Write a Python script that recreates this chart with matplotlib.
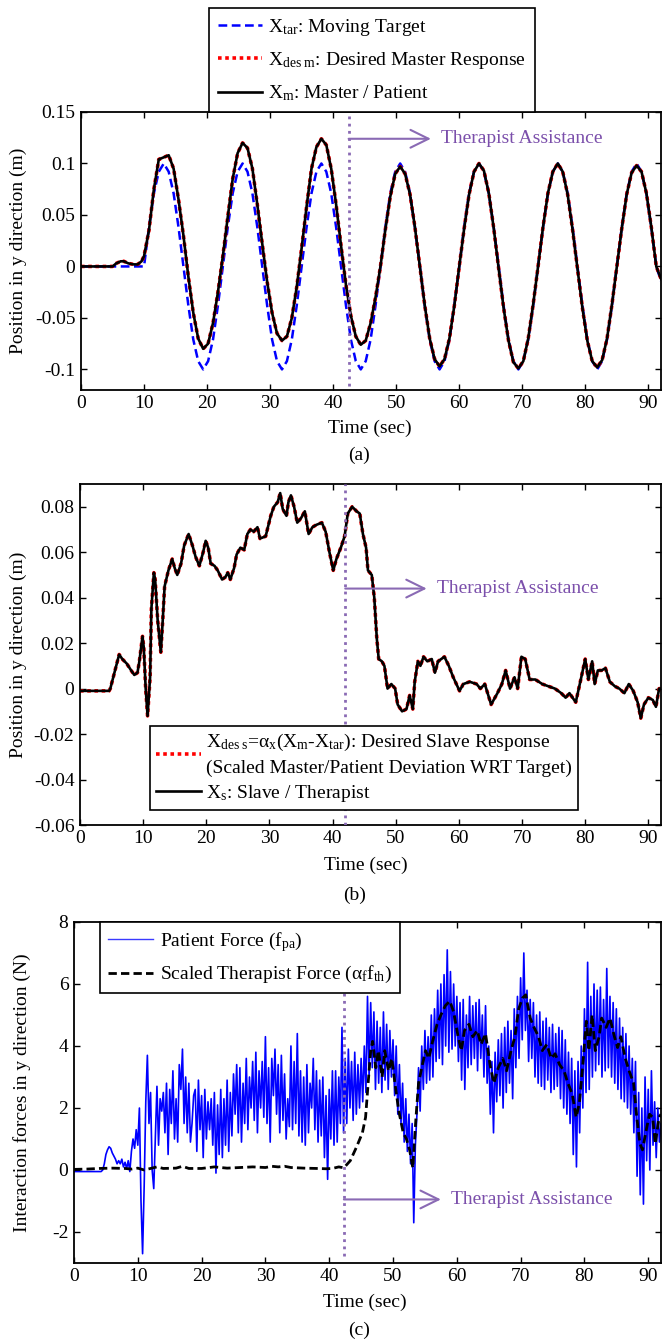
import matplotlib
matplotlib.use('Agg')
import matplotlib.pyplot as plt
import numpy as np

plt.rcParams['font.family'] = ['Liberation Serif', 'DejaVu Serif']
plt.rcParams['mathtext.fontset'] = 'custom'
plt.rcParams['mathtext.rm'] = 'Liberation Serif'
plt.rcParams['mathtext.it'] = 'Liberation Serif:italic'
plt.rcParams['font.size'] = 14

PURPLE_TXT = '#7b4fab'
PURPLE_LN = '#8a6ab4'

# ---------------- (a) position of master vs target ----------------
t_tar = [0, 10.00, 10.78, 11.56, 12.34, 13.13, 13.91, 14.69, 15.47, 16.25, 17.03, 17.81, 18.59, 19.38, 20.16, 20.94, 21.72,
         22.50, 23.28, 24.06, 24.84, 25.63, 26.41, 27.19, 27.97, 28.75, 29.53, 30.31, 31.09, 31.88, 32.66, 33.44, 34.22,
         35.00, 35.78, 36.56, 37.34, 38.13, 38.91, 39.69, 40.47, 41.25, 42.03, 42.81, 43.59, 44.38, 45.16, 45.94, 46.72,
         47.50, 48.28, 49.06, 49.84, 50.63, 51.41, 52.19, 52.97, 53.75, 54.53, 55.31, 56.09, 56.88, 57.66, 58.44, 59.22,
         60.00, 60.78, 61.56, 62.34, 63.13, 63.91, 64.69, 65.47, 66.25, 67.03, 67.81, 68.59, 69.38, 70.16, 70.94, 71.72,
         72.50, 73.28, 74.06, 74.84, 75.63, 76.41, 77.19, 77.97, 78.75, 79.53, 80.31, 81.09, 81.88, 82.66, 83.44, 84.22,
         85.00, 85.78, 86.56, 87.34, 88.13, 88.91, 89.69, 90.47, 91.25, 92.00]
x_tar = [0, 0.000, 0.038, 0.071, 0.092, 0.100, 0.092, 0.071, 0.038, 0.000, -0.038, -0.071, -0.092, -0.100, -0.092, -0.071, -0.038,
         0.000, 0.038, 0.071, 0.092, 0.100, 0.092, 0.071, 0.038, 0.000, -0.038, -0.071, -0.092, -0.100, -0.092, -0.071, -0.038,
         0.000, 0.038, 0.071, 0.092, 0.100, 0.092, 0.071, 0.038, 0.000, -0.038, -0.071, -0.092, -0.100, -0.092, -0.071, -0.038,
         0.000, 0.038, 0.071, 0.092, 0.100, 0.092, 0.071, 0.038, 0.000, -0.038, -0.071, -0.092, -0.100, -0.092, -0.071, -0.038,
         0.000, 0.038, 0.071, 0.092, 0.100, 0.092, 0.071, 0.038, 0.000, -0.038, -0.071, -0.092, -0.100, -0.092, -0.071, -0.038,
         0.000, 0.038, 0.071, 0.092, 0.100, 0.092, 0.071, 0.038, 0.000, -0.038, -0.071, -0.092, -0.100, -0.092, -0.071, -0.038,
         0.000, 0.038, 0.071, 0.092, 0.100, 0.092, 0.071, 0.038, 0.000, -0.014]

t_m = [0, 5.0, 5.6, 6.3, 6.8, 7.5, 8.3, 9.0, 9.6] + t_tar[1:]
x_m = [0, 0.000, 0.003, 0.005, 0.005, 0.003, 0.002, 0.002, 0.005,
       0.010, 0.035, 0.075, 0.104, 0.106, 0.108, 0.095, 0.065, 0.030, -0.010, -0.045, -0.070, -0.080, -0.075, -0.055, -0.025,
       0.010, 0.048, 0.085, 0.110, 0.120, 0.115, 0.095, 0.060, 0.022, -0.015, -0.045, -0.065, -0.072, -0.068, -0.050, -0.020,
       0.018, 0.058, 0.095, 0.116, 0.124, 0.118, 0.095, 0.060, 0.020, -0.018, -0.048, -0.068, -0.076, -0.072, -0.055, -0.030,
       0.000, 0.036, 0.068, 0.090, 0.097, 0.090, 0.070, 0.038, 0.000, -0.038, -0.070, -0.090, -0.097, -0.090, -0.070, -0.038,
       0.000, 0.037, 0.070, 0.092, 0.100, 0.093, 0.071, 0.037, -0.002, -0.040, -0.072, -0.093, -0.099, -0.092, -0.070, -0.037,
       0.000, 0.038, 0.071, 0.092, 0.100, 0.092, 0.070, 0.036, -0.002, -0.040, -0.072, -0.092, -0.098, -0.091, -0.070, -0.037,
       0.000, 0.037, 0.070, 0.091, 0.098, 0.092, 0.071, 0.038, 0.000, -0.012]
x_des_m = x_m

# ---------------- (b) slave position ----------------
t_s = [0, 4.6, 4.8, 6.2, 6.7, 7.4, 8.1, 8.6, 9.1, 9.4, 9.9, 10.1, 10.4, 10.7, 11.1, 11.3, 11.7, 11.9, 12.3, 12.8,
       13.1, 13.4, 14.0, 14.6, 15.0, 15.4, 16.0, 16.5, 17.2, 17.8, 18.3, 18.9, 19.5, 19.9, 20.3, 20.7, 21.3, 21.8, 22.5,
       23.0, 23.4, 23.8, 24.4, 24.8, 25.4, 26.0, 26.5, 27.0, 27.5, 28.1, 28.5, 29.4, 30.2, 30.7, 31.3, 31.7, 32.1, 32.7,
       33.0, 33.4, 33.9, 34.4, 35.0, 35.6, 36.2, 36.8, 37.4, 38.3, 38.9, 39.5, 40.1, 40.6, 41.3, 41.9, 42.4, 43.1, 43.8,
       44.3, 44.8, 45.3, 45.6, 46.2, 46.6, 47.0, 47.3, 47.8, 48.2, 48.7, 49.3, 49.9, 50.3, 51.0, 51.7, 52.2, 52.7, 53.0,
       53.5, 53.9, 54.4, 55.0, 55.7, 56.2, 56.7, 57.7, 58.4, 59.1, 60.1, 60.7, 61.7, 62.8, 63.4, 64.1, 65.1, 66.1, 66.8,
       67.4, 68.1, 68.8, 69.3, 69.9, 70.5, 71.2, 72.1, 73.2, 74.2, 75.2, 76.2, 76.9, 77.5, 78.5, 79.3, 80.0, 80.5, 81.1,
       81.5, 82.0, 82.6, 83.2, 83.9, 84.7, 85.4, 86.2, 86.9, 87.6, 88.3, 88.8, 89.3, 90.0, 90.7, 91.2, 91.7, 92.0]
x_s = [-0.001, -0.001, 0.000, 0.015, 0.013, 0.011, 0.008, 0.006, 0.007, 0.012, 0.023, 0.018, 0.000, -0.012, 0.005, 0.035, 0.051, 0.048, 0.030, 0.016,
       0.030, 0.045, 0.052, 0.057, 0.053, 0.050, 0.055, 0.063, 0.068, 0.063, 0.058, 0.054, 0.060, 0.065, 0.062, 0.055, 0.054, 0.052, 0.048,
       0.049, 0.051, 0.048, 0.053, 0.059, 0.062, 0.061, 0.068, 0.070, 0.069, 0.071, 0.066, 0.067, 0.076, 0.080, 0.082, 0.086, 0.079, 0.076,
       0.082, 0.085, 0.080, 0.073, 0.075, 0.078, 0.068, 0.071, 0.072, 0.073, 0.069, 0.060, 0.052, 0.057, 0.062, 0.067, 0.077, 0.080, 0.078,
       0.077, 0.068, 0.062, 0.052, 0.050, 0.040, 0.022, 0.013, 0.012, 0.010, 0.000, 0.002, 0.000, -0.007, -0.010, -0.009, -0.003, -0.009, 0.003,
       0.012, 0.010, 0.014, 0.012, 0.013, 0.007, 0.012, 0.014, 0.010, 0.005, -0.001, 0.002, 0.003, 0.002, 0.000, 0.002, -0.007, -0.002, 0.002,
       0.008, 0.000, 0.005, 0.000, 0.014, 0.013, 0.004, 0.004, 0.002, 0.001, 0.000, -0.002, -0.004, -0.002, -0.006, 0.004, 0.013, 0.004, 0.012,
       0.002, 0.008, 0.008, 0.009, 0.003, 0.001, 0.000, -0.002, 0.002, -0.001, -0.006, -0.013, -0.007, -0.004, -0.005, -0.008, 0.000, 0.000]
x_des_s = x_s

# ---------------- (c) interaction forces ----------------
dt_force = 0.25
f_pa = [-0.05, -0.05, -0.05, -0.05, -0.05, -0.05, -0.05, -0.05, -0.05, -0.05, -0.05, -0.05, -0.05, -0.05, -0.05, -0.05,
        -0.05, -0.05, 0.0, 0.2, 0.5, 0.65, 0.75, 0.7, 0.55, 0.45, 0.35, 0.2, 0.3, 0.2, 0.35, 0.1,
        0.25, 0.05, 0.3, -0.05, 0.6, 1.0, 0.7, 1.3, 0.8, 2.0, -1.0, -2.7, -0.5, 2.2, 3.7, 1.5,
        2.5, 0.0, -0.6, 1.0, 2.7, 0.8, 2.3, 1.9, 2.5, 1.2, 2.8, 0.5, 2.6, 1.5, 3.2, 1.0,
        2.3, 0.9, 3.4, 2.6, 3.9, 1.5, 3.0, 1.2, 2.8, 0.9, 1.5, 2.4, 2.6, 0.6, 2.9, 1.3,
        2.4, 0.4, 2.6, 1.0, 2.2, 1.3, 2.3, 0.8, 2.5, -0.1, 2.1, 0.5, 2.6, 0.4, 2.3, 0.8,
        2.9, 0.6, 2.5, 1.1, 3.1, 1.8, 3.4, 1.2, 3.3, 0.9, 2.8, 1.5, 3.6, 1.3, 3.0, 2.0,
        3.5, 1.6, 3.8, 1.2, 3.2, 2.0, 3.5, 1.7, 4.3, 1.5, 3.3, 0.9, 3.6, 2.4, 3.9, 1.8,
        3.4, 1.2, 3.7, 1.6, 3.1, 1.0, 2.3, 1.4, 4.0, 1.3, 3.5, 1.5, 4.4, 1.1, 3.2, 0.9,
        3.0, 0.8, 3.4, 1.2, 2.8, 2.0, 3.6, 1.3, 3.2, 0.9, 2.9, 1.1, 3.0, 0.4, 2.4, -0.3,
        2.6, 1.0, 3.2, 0.8, 3.2, 0.9, 3.0, 1.5, 4.6, 1.2, 3.6, 1.5, 3.9, 2.0, 3.5, 1.6,
        3.8, 1.8, 3.4, 2.0, 3.6, 2.2, 4.0, 2.5, 5.6, 3.0, 5.4, 3.3, 5.1, 2.6, 4.8, 2.8,
        4.6, 2.5, 5.1, 2.9, 4.7, 2.6, 4.5, 3.0, 4.2, 2.4, 4.0, 1.8, 3.4, 1.5, 2.8, 0.9,
        2.3, 0.6, 1.8, 0.2, 1.5, -1.7, 0.8, 1.8, 3.3, 1.9, 4.0, 2.6, 4.5, 2.8, 4.3, 2.9,
        5.0, 3.0, 5.2, 3.5, 5.8, 3.6, 6.0, 3.4, 6.3, 4.0, 7.1, 3.8, 6.4, 3.9, 6.0, 4.0,
        5.6, 3.5, 5.4, 2.9, 5.5, 2.6, 5.0, 3.3, 5.6, 3.4, 5.3, 3.6, 5.4, 3.2, 5.5, 3.6,
        5.0, 3.0, 5.3, 2.8, 4.0, 1.8, 3.5, 1.2, 3.8, 2.2, 4.2, 2.4, 4.4, 2.0, 4.6, 2.5,
        4.8, 2.8, 4.5, 2.3, 5.2, 3.3, 5.6, 3.6, 6.2, 4.2, 7.0, 4.5, 5.8, 3.5, 5.5, 3.6,
        5.4, 3.0, 5.0, 2.8, 5.1, 2.7, 4.8, 2.6, 4.9, 2.9, 4.6, 2.5, 4.7, 2.6, 4.4, 2.7,
        4.6, 2.3, 4.5, 2.0, 4.2, 1.8, 3.8, 1.5, 3.6, 0.5, 3.2, 0.1, 3.5, 1.2, 4.0, 2.0,
        5.2, 2.5, 6.7, 2.6, 5.6, 3.0, 6.0, 3.2, 5.8, 3.4, 5.9, 3.0, 5.5, 3.2, 6.5, 3.3,
        5.6, 3.0, 5.4, 2.8, 5.2, 2.6, 4.9, 2.3, 4.6, 2.2, 4.4, 2.0, 4.0, 1.8, 3.6, 1.2,
        3.5, -0.2, 2.5, -0.8, 2.0, -1.1, 3.0, 0.3, 2.6, 0.0, 3.2, 0.8, 2.2, 0.4, 2.0, 0.9,
        1.5]
t_pa = np.arange(len(f_pa)) * dt_force

t_th = [0, 2, 4, 6, 8, 9, 10, 11, 12, 13, 14, 16, 17, 18, 20, 22, 24, 26, 28, 30, 31, 32, 33, 34, 36, 38, 39.5, 40.5,
        41.5, 42.3, 43.3, 44.3, 45.2, 45.7, 46.1, 46.5, 46.8, 47.3, 47.7, 48.3, 48.7, 49.3, 49.8, 50.3, 50.9, 51.6, 52.1,
        52.6, 53.1, 53.6, 54.0, 54.6, 55.1, 55.6, 56.2, 56.9, 57.5, 58.2, 58.9, 59.5, 60.2, 60.7, 61.2, 61.9, 62.5, 63.2,
        63.8, 64.5, 65.2, 65.8, 66.5, 67.2, 67.8, 68.5, 69.1, 69.7, 70.3, 70.8, 71.5, 72.1, 72.8, 73.4, 74.1, 74.8, 75.4,
        76.1, 76.8, 77.4, 78.1, 78.7, 79.2, 79.7, 80.3, 80.7, 81.2, 81.7, 82.3, 82.7, 83.4, 84.0, 84.7, 85.2, 85.7, 86.4,
        87.0, 87.7, 88.2, 88.7, 89.1, 89.7, 90.2, 90.7, 91.1, 91.7, 92.0]
f_th = [0.02, 0.03, 0.05, 0.06, 0.05, 0.03, 0.06, 0.0, 0.05, 0.1, 0.05, 0.06, 0.12, 0.05, 0.05, 0.1, 0.06, 0.08, 0.1, 0.08,
        0.12, 0.1, 0.12, 0.08, 0.06, 0.05, 0.04, 0.05, 0.1, 0.07, 0.3, 0.75, 1.2, 1.7, 2.8, 3.85, 4.15, 3.3, 3.85, 3.0, 3.85,
        3.2, 3.6, 2.8, 1.9, 1.2, 1.0, 0.65, 0.07, 1.7, 2.8, 3.4, 3.85, 3.6, 4.15, 4.7, 5.0, 5.3, 5.45, 5.1, 4.3, 3.85, 4.5,
        4.7, 4.3, 4.5, 4.05, 4.4, 3.4, 2.8, 3.3, 3.6, 3.2, 3.85, 4.3, 5.2, 5.55, 5.65, 4.9, 4.6, 4.3, 3.85, 4.05, 3.6, 3.75,
        3.4, 3.2, 2.8, 2.45, 1.7, 2.15, 3.3, 4.8, 3.85, 5.0, 3.85, 4.3, 4.9, 4.6, 4.9, 4.3, 3.95, 4.3, 3.6, 3.2, 2.8, 1.7,
        0.85, 0.65, 1.3, 1.8, 1.7, 0.85, 1.7, 1.8]

assist_t = [42.45, 42.0, 42.3]
assist_y = [0.124, 0.044, -0.95]
arrow_end = [55.5, 54.9, 57.5]

yticks_a = [-0.1, -0.05, 0, 0.05, 0.1, 0.15]
ylabels_a = ['-0.1', '-0.05', '0', '0.05', '0.1', '0.15']
yticks_b = [-0.06, -0.04, -0.02, 0, 0.02, 0.04, 0.06, 0.08]
ylabels_b = ['-0.06', '-0.04', '-0.02', '0', '0.02', '0.04', '0.06', '0.08']
yticks_c = [-2, 0, 2, 4, 6, 8]
ylabels_c = ['-2', '0', '2', '4', '6', '8']
xticks = [0, 10, 20, 30, 40, 50, 60, 70, 80, 90]

W, H = 662, 1342
fig = plt.figure(figsize=(W / 100, H / 100), dpi=100)


def px_axes(l, t, r, b):
    return fig.add_axes([l / W, 1 - b / H, (r - l) / W, (b - t) / H])


def style(ax, yt, yl, ylim):
    ax.set_xlim(0, 92)
    ax.set_ylim(*ylim)
    ax.set_xticks(xticks)
    ax.set_xticklabels([str(v) for v in xticks])
    ax.set_yticks(yt)
    ax.set_yticklabels(yl)
    ax.tick_params(direction='in', top=True, right=True, length=4, width=1, labelsize=14)
    ax.tick_params(axis='x', pad=3.5)
    ax.tick_params(axis='y', pad=4)
    for s in ax.spines.values():
        s.set_linewidth(1.3)


def assistance(ax, i, ymin=0.0):
    ax.axvline(assist_t[i], ymin=ymin, ymax=1, color=PURPLE_LN, lw=2, ls=(0, (1, 1.6)), zorder=4)
    ax.annotate('', xy=(arrow_end[i], assist_y[i]), xytext=(assist_t[i], assist_y[i]),
                arrowprops=dict(arrowstyle='->,head_length=0.65,head_width=0.32', color=PURPLE_LN,
                                lw=1.5, mutation_scale=20, shrinkA=0, shrinkB=0))
    ax.text(arrow_end[i] + 1.6, assist_y[i], 'Therapist Assistance', color=PURPLE_TXT,
            fontsize=14, va='center', ha='left')


def under_text(x_time, y_time, x_tag, y_tag, tag):
    fig.text(x_time / W, 1 - y_time / H, 'Time (sec)', ha='center', va='center', fontsize=14)
    fig.text(x_tag / W, 1 - y_tag / H, tag, ha='center', va='center', fontsize=14)


# ---- (a)
ax1 = px_axes(81, 112, 661, 390)
l1, = ax1.plot(t_tar, x_tar, color='#0000ff', lw=1.8, ls=(0, (3.5, 1.8)))
l2, = ax1.plot(t_m, x_des_m, color='#ff0000', lw=2.6, ls=(0, (1, 1)))
l3, = ax1.plot(t_m, x_m, color='black', lw=1.9)
style(ax1, yticks_a, ylabels_a, (-0.12, 0.15))
assistance(ax1, 0, ymin=0.015)
ax1.set_ylabel('Position in y direction (m)', fontsize=14)
ax1.yaxis.set_label_coords(-0.093, 0.5)
under_text(370, 428, 359, 455, '(a)')
leg1 = fig.legend([l1, l2, l3],
                  [r'X$_{\rm tar}$: Moving Target', r'X$_{\rm des\ m}$: Desired Master Response',
                   r'X$_{\rm m}$: Master / Patient'],
                  loc='lower left', bbox_to_anchor=(209 / W, 1 - 112 / H), borderaxespad=0,
                  fancybox=False, edgecolor='black', framealpha=1, fontsize=14,
                  handlelength=2.3, handletextpad=0.3, labelspacing=0.63, borderpad=0.45)
leg1.get_frame().set_linewidth(1.2)

# ---- (b)
ax2 = px_axes(80, 484, 661, 825)
m1, = ax2.plot(t_s, x_des_s, color='#ff0000', lw=2.6, ls=(0, (1, 1)))
m2, = ax2.plot(t_s, x_s, color='black', lw=1.9)
style(ax2, yticks_b, ylabels_b, (-0.06, 0.09))
assistance(ax2, 1)
ax2.set_ylabel('Position in y direction (m)', fontsize=14)
ax2.yaxis.set_label_coords(-0.091, 0.5)
under_text(366, 865, 355, 895, '(b)')
leg2 = ax2.legend([m1, m2],
                  ['X$_{\\rm des\\ s}$=α$_{\\rm x}$(X$_{\\rm m}$-X$_{\\rm tar}$): Desired Slave Response\n'
                   '(Scaled Master/Patient Deviation WRT Target)', r'X$_{\rm s}$: Slave / Therapist'],
                  loc='lower left', bbox_to_anchor=(150 / W, 1 - 810 / H), bbox_transform=fig.transFigure,
                  borderaxespad=0, fancybox=False, edgecolor='black', framealpha=1, fontsize=14,
                  handlelength=2.3, handletextpad=0.3, labelspacing=0.3, borderpad=0.3)
leg2.get_texts()[0].set_linespacing(1.5)
leg2.get_frame().set_linewidth(1.2)
leg2.set_zorder(6)

# ---- (c)
ax3 = px_axes(74, 922, 661, 1263)
n1, = ax3.plot(t_pa, f_pa, color='#0000ff', lw=1.2)
n2, = ax3.plot(t_th, f_th, color='black', lw=2, ls=(0, (3, 1.5)))
style(ax3, yticks_c, ylabels_c, (-3, 8))
assistance(ax3, 2, ymin=0.02)
ax3.set_ylabel('Interaction forces in y direction (N)', fontsize=14)
ax3.yaxis.set_label_coords(-0.073, 0.5)
under_text(365, 1302, 359, 1330, '(c)')
h_blue = plt.Line2D([], [], color='#3a3aff', lw=1)
leg3 = ax3.legend([h_blue, n2], [r'Patient Force (f$_{\rm pa}$)', r'Scaled Therapist Force (α$_{\rm f}$f$_{\rm th}$)'],
                  loc='upper left', bbox_to_anchor=(100 / W, 1 - 922 / H), bbox_transform=fig.transFigure,
                  borderaxespad=0, fancybox=False, edgecolor='black', framealpha=1, fontsize=14,
                  handlelength=2.3, handletextpad=0.4, labelspacing=0.55, borderpad=0.4)
leg3.get_frame().set_linewidth(1.2)
leg3.set_zorder(6)

fig.savefig('out.png', dpi=100)
